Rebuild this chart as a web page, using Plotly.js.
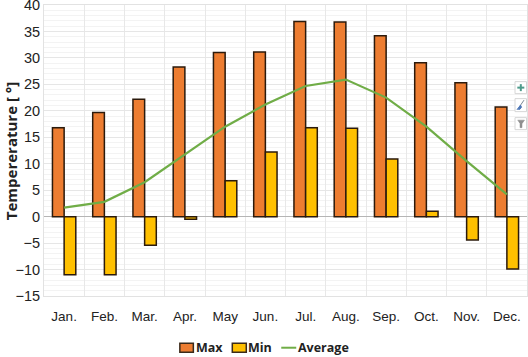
<!DOCTYPE html>
<html><head><meta charset="utf-8">
<script src="https://cdn.plot.ly/plotly-3.0.1.min.js"></script>
<style>html,body{margin:0;padding:0;background:#fff}#c{width:528px;height:357px}</style>
</head><body><div id="c"></div>
<script>
var months = ["Jan.","Feb.","Mar.","Apr.","May","Jun.","Jul.","Aug.","Sep.","Oct.","Nov.","Dec."];
var maxTemp = [16.8,19.7,22.2,28.3,31.0,31.1,36.9,36.8,34.2,29.1,25.3,20.7];
var minTemp = [-11.0,-11.0,-5.4,-0.5,6.8,12.2,16.8,16.7,10.9,1.0,-4.4,-9.9];
var avgTemp = [1.7,2.8,6.5,11.8,17.0,21.2,24.7,25.9,22.5,17.0,10.5,4.2];
var seriesNames = ["Max","Min","Average"];
var seriesColors = ["#ed7d31","#ffc000","#70ad47"];
var yTitle = "Tempererature [ °]";

var M = {l:43.5,r:1,t:5.4,b:60.7};
var W = 528, H = 357;
function px(x){return (x-M.l)/(W-M.l-M.r);}
function py(y){return 1-(y-M.t)/(H-M.t-M.b);}

var barLine = {color:"#2b1a0c", width:1.5};
var traces = [
 {type:"bar", name:seriesNames[0], x:months, y:maxTemp, marker:{color:seriesColors[0], line:barLine}},
 {type:"bar", name:seriesNames[1], x:months, y:minTemp, marker:{color:seriesColors[1], line:barLine}},
 {type:"scatter", mode:"lines", name:seriesNames[2], x:months, y:avgTemp, line:{color:seriesColors[2], width:2.2}}
];
function rect(x0,y0,x1,y1,fill,line){
  return {type:"rect",xref:"paper",yref:"paper",x0:px(x0),x1:px(x1),y0:py(y0),y1:py(y1),fillcolor:fill,line:line,layer:"above"};
}
function path(pts,fill,lineColor,w){
  var d = pts.map(function(p,i){return (i?"L":"M")+px(p[0])+","+py(p[1]);}).join(" ");
  return {type:"path",xref:"paper",yref:"paper",path:d,fillcolor:fill,line:{color:lineColor,width:w},layer:"above"};
}
function legText(x,t){
  return {xref:"paper",yref:"paper",x:px(x),y:py(348),xanchor:"left",yanchor:"middle",showarrow:false,text:t,
    font:{family:"Open Sans, sans-serif",size:12.5,weight:700,color:"#222"},borderpad:0};
}
var btnLine = {color:"#d6d6d6",width:1};
var shapes = [
  rect(179.5,343.5,193,352.5,seriesColors[0],{color:"#3a2a1a",width:1.5}),
  rect(232,343.5,246,352.5,seriesColors[1],{color:"#3a2a1a",width:1.5}),
  path([[281,348],[296,348]],"rgba(0,0,0,0)",seriesColors[2],2),
  rect(515,82,526.5,94,"#fff",btnLine),
  rect(515,99,526.5,112,"#fff",btnLine),
  rect(515,118,526.5,130,"#fff",btnLine),
  path([[520.8,84.5],[520.8,91.5]],"rgba(0,0,0,0)","#4f9c8c",2),
  path([[517.3,88],[524.3,88]],"rgba(0,0,0,0)","#4f9c8c",2),
  path([[524,100.5],[519.5,107]],"rgba(0,0,0,0)","#7a8894",1),
  path([[517,110],[520.5,105.5],[521.5,107.5],[519.5,110]],"#4f78b8","#4f78b8",1),
  path([[517.5,120.5],[524.5,120.5],[522,124],[522,128],[520,128],[520,124]],"#8f8f8f","#8f8f8f",0.5)
];
var annotations = [
  legText(195,seriesNames[0]),legText(247,seriesNames[1]),legText(297,seriesNames[2]),
  {xref:"paper",yref:"paper",x:px(10.5),y:py(151.5),xanchor:"center",yanchor:"middle",textangle:-90,showarrow:false,text:yTitle,
   font:{family:"Open Sans, sans-serif",size:15,weight:700,color:"#222"},borderpad:0}
];
var layout = {
 width:W,height:H,
 margin:{l:M.l,r:M.r,t:M.t,b:M.b,pad:0},
 paper_bgcolor:"#fff",plot_bgcolor:"#fff",
 font:{family:"Liberation Sans, Arial, sans-serif",size:14,color:"#222"},
 barmode:"group",bargap:0.42,bargroupgap:0,
 showlegend:false,
 xaxis:{type:"category",tickson:"boundaries",showgrid:true,gridcolor:"#e8e8e8",gridwidth:1,
   ticks:"",showline:true,linecolor:"#e2e2e2",mirror:true,zeroline:false,automargin:false,
   tickfont:{size:13.5,color:"#222"},ticklabelstandoff:8,ticklabeloverflow:"allow"},
 yaxis:{range:[-15,40],dtick:5,tick0:0,showgrid:true,gridcolor:"#e6e6e6",gridwidth:1,automargin:false,
   minor:{dtick:1,showgrid:true,gridcolor:"#f3f3f3",gridwidth:1,ticks:""},
   zeroline:true,zerolinecolor:"#b5b5b5",zerolinewidth:1,
   showline:true,linecolor:"#e2e2e2",mirror:true,ticks:"",
   tickfont:{size:14.5,color:"#222"},ticklabeloverflow:"allow"},
 shapes:shapes,
 annotations:annotations
};
Plotly.newPlot("c",traces,layout,{displayModeBar:false,staticPlot:true});
</script></body></html>
